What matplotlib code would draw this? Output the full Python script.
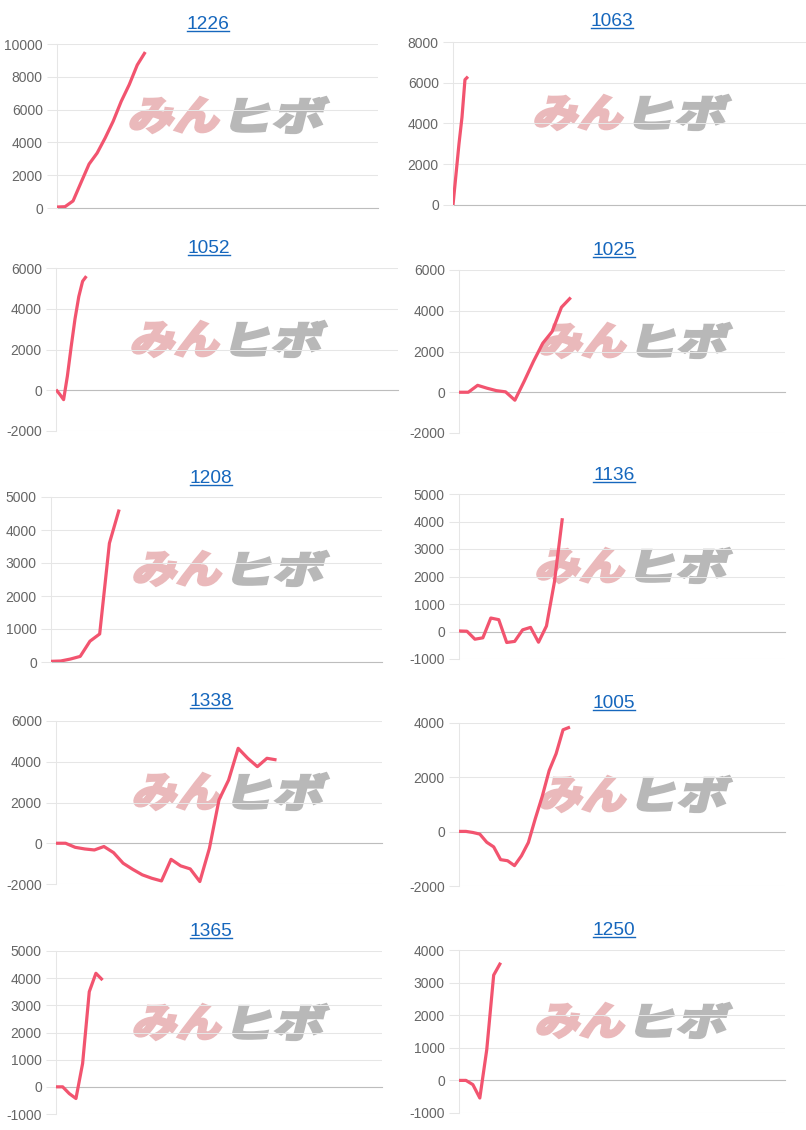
import numpy as np
import matplotlib
matplotlib.use('Agg')
import matplotlib.pyplot as plt
from matplotlib.textpath import TextPath
from matplotlib.font_manager import FontProperties
from matplotlib.patches import PathPatch
from matplotlib.transforms import Affine2D, IdentityTransform
from matplotlib.lines import Line2D

plt.rcParams['font.family'] = ['Liberation Sans', 'DejaVu Sans']
plt.rcParams['axes.unicode_minus'] = False

W, H, DPI = 806, 1130, 100

# --- data -------------------------------------------------------------
titles = ['1226', '1063', '1052', '1025', '1208', '1136', '1338', '1005', '1365', '1250']

p1226 = [60, 80, 430, 1560, 2680, 3350, 4270, 5290, 6500, 7520, 8720, 9510]
p1063 = [0, 1500, 3000, 4300, 6150, 6300]
p1052 = [30, -200, -460, 700, 2150, 3500, 4600, 5350, 5600]
p1025 = [0, 0, 340, 200, 80, 20, -390, 540, 1520, 2410, 2980, 4170, 4650]
p1208 = [20, 30, 90, 170, 630, 850, 3600, 4620]
p1136 = [20, 10, -280, -230, 490, 430, -400, -360, 60, 150, -390, 200, 1800, 4120]
p1338 = [0, 0, -200, -280, -330, -160, -460, -980, -1280, -1550, -1720, -1850,
         -790, -1110, -1260, -1880, -250, 2130, 3100, 4660, 4170, 3760, 4170, 4090]
p1005 = [10, 10, -30, -90, -390, -560, -1030, -1070, -1250, -890, -400, 480,
         1300, 2250, 2870, 3750, 3850]
p1365 = [0, 0, -250, -430, 860, 3500, 4180, 3930]
p1250 = [0, 0, -130, -540, 940, 3230, 3610]

series = [p1226, p1063, p1052, p1025, p1208, p1136, p1338, p1005, p1365, p1250]
slots = [40, 118, 90, 35, 34, 41, 34, 47, 49, 47]
ylims = [(0, 10000), (0, 8000), (-2000, 6000), (-2000, 6000), (0, 5000),
         (-1000, 5000), (-2000, 6000), (-2000, 4000), (-1000, 5000), (-1000, 4000)]
ysteps = [2000, 2000, 2000, 2000, 1000, 1000, 2000, 2000, 1000, 1000]

# --- layout (pixels: left, right, top, bottom) -------------------------
boxes = [(57, 378, 44, 208), (453, 806, 42, 205), (56, 398, 268, 431), (459, 785, 270, 433),
         (51, 382, 497, 662), (459, 785, 494, 659), (56, 382, 721, 884), (459, 785, 723, 886),
         (56, 382, 951, 1114), (459, 785, 950, 1113)]
title_pos = [(208, 29.3), (612, 26), (209, 252.7), (614, 255), (211, 482.7),
             (614, 480), (211, 705.7), (614, 708), (211, 935.7), (614, 935)]
marks = [(128, 330, 97, 133), (533, 732, 95, 130), (130, 328, 321, 357), (538, 733, 323, 358),
         (132, 330, 551, 586), (535, 733, 548, 583), (132, 330, 773, 810), (538, 733, 776, 812),
         (132, 330, 1004, 1040), (535, 733, 1003, 1038)]

LINE = '#f2546f'
GRID = '#e6e6e6'
ZERO = '#bdbdbd'
TITLE = '#1667bd'

fig = plt.figure(figsize=(W / DPI, H / DPI), dpi=DPI)
fig.patch.set_facecolor('white')

wm_font = FontProperties(family='Noto Sans CJK JP', weight='black')


def stamp(text, color, x0, x1, top, bottom, shear=14):
    tp = TextPath((0, 0), text, size=100, prop=wm_font)
    e = tp.get_extents()
    h = bottom - top
    t = np.tan(np.radians(shear))
    sx = ((x1 - x0) - h * t) / e.width
    sy = h / e.height
    tr = (Affine2D().translate(-e.x0, -e.y0).scale(sx, sy)
          .skew_deg(shear, 0).translate(x0, H - bottom))
    fig.add_artist(PathPatch(tr.transform_path(tp), facecolor=color, edgecolor=color,
                             linewidth=1.6, transform=IdentityTransform(), zorder=-1))


texts = []
for i, vals in enumerate(series):
    l, r, t, b = boxes[i]
    ax = fig.add_axes([l / W, 1 - b / H, (r - l) / W, (b - t) / H])
    ax.set_facecolor('none')
    lo, hi = ylims[i]
    ax.set_ylim(lo, hi)
    ax.set_xlim(0, slots[i])
    ax.set_yticks(np.arange(lo, hi + 1, ysteps[i]))
    ax.set_xticks([])
    for s in ['top', 'right', 'bottom']:
        ax.spines[s].set_visible(False)
    ax.spines['left'].set_color(GRID)
    ax.spines['left'].set_linewidth(0.75)
    ax.yaxis.grid(True, color=GRID, linewidth=0.75)
    ax.set_axisbelow(True)
    ax.tick_params(axis='y', length=7.2, width=0.75, color=GRID,
                   labelcolor='#666666', labelsize=10, pad=3)
    ax.axhline(0, color=ZERO, linewidth=0.8, zorder=1, clip_on=False)
    ax.plot(range(len(vals)), vals, color=LINE, linewidth=2.3,
            solid_joinstyle='round', solid_capstyle='butt', zorder=3)

    x0, x1, mt, mb = marks[i]
    stamp('みん', '#eab9bb', x0, x0 + 0.48 * (x1 - x0), mt, mb)
    stamp('ヒボ', '#b8b8b8', x0 + 0.50 * (x1 - x0), x1, mt, mb)

    tx, ty = title_pos[i]
    texts.append((fig.text(tx / W, 1 - ty / H, titles[i], ha='center', va='baseline',
                           fontsize=13.8, color=TITLE), ty))

fig.canvas.draw()
rend = fig.canvas.get_renderer()
for txt, ty in texts:
    bb = txt.get_window_extent(rend)
    y = H - (ty + 2)
    fig.add_artist(Line2D([bb.x0, bb.x1], [y, y], color=TITLE, linewidth=1.0,
                          transform=IdentityTransform()))

fig.savefig('out.png', dpi=DPI)
